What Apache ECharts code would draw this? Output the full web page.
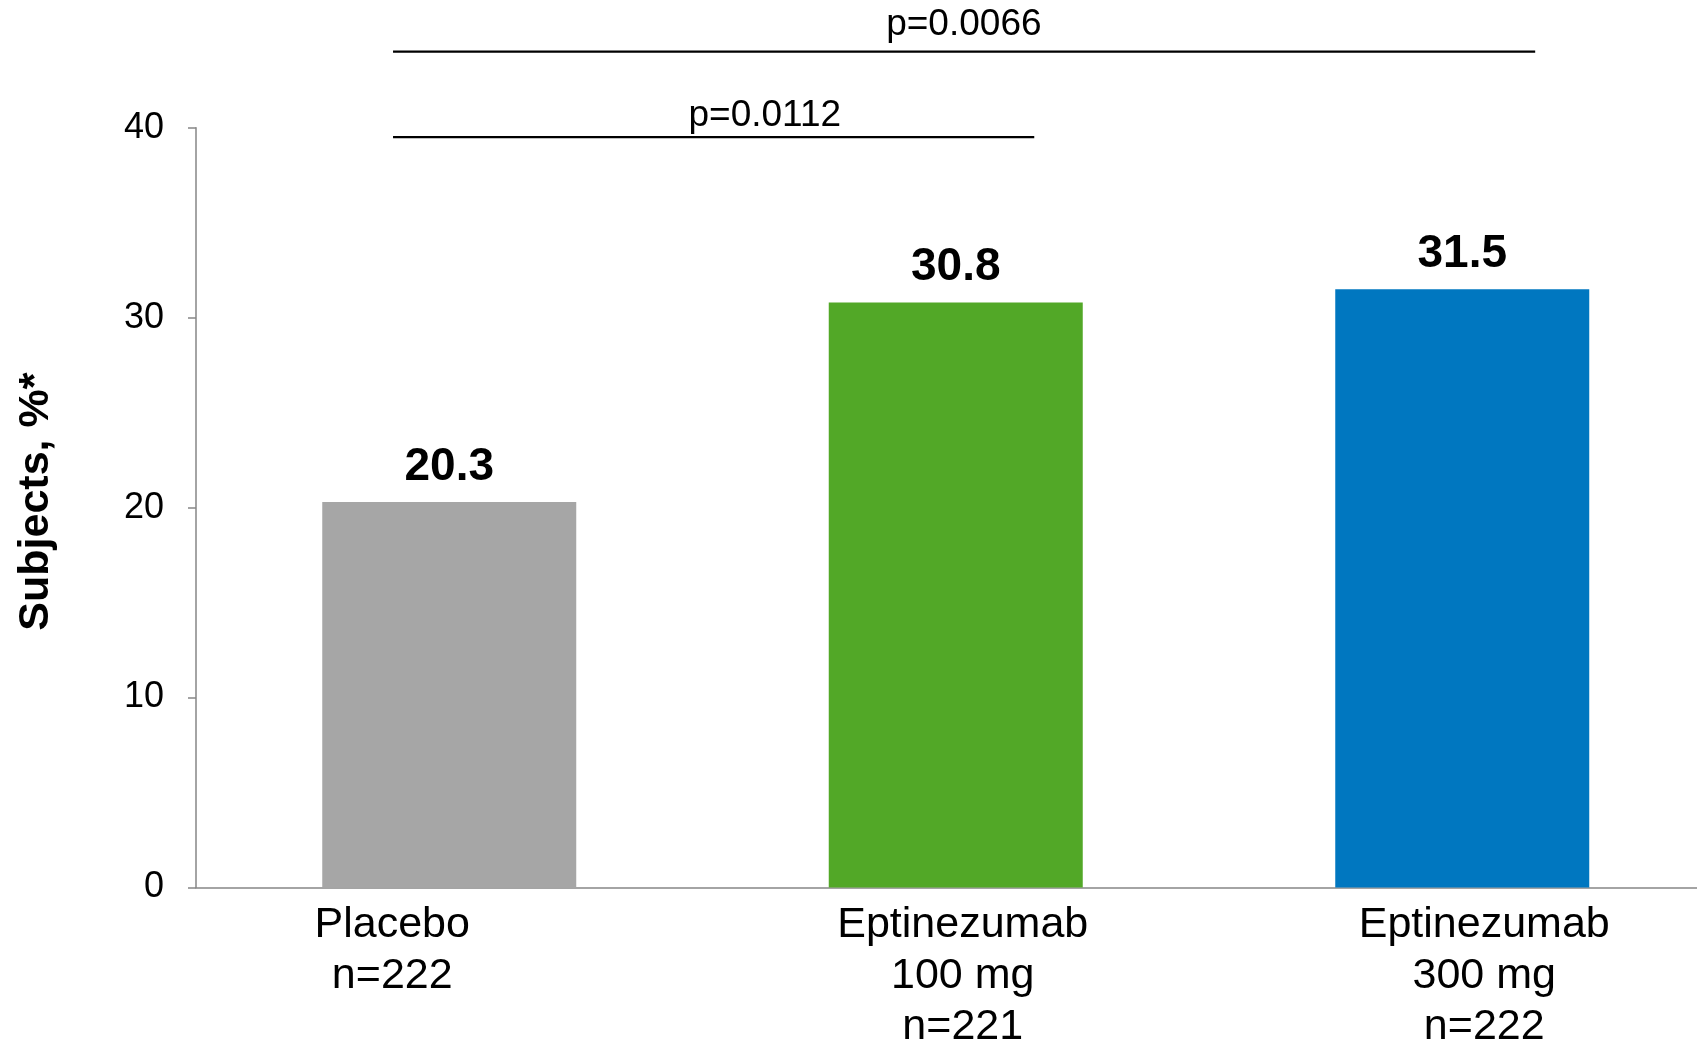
<!DOCTYPE html>
<html>
<head>
<meta charset="utf-8">
<title>Subjects by treatment group</title>
<script src="https://cdn.jsdelivr.net/npm/echarts@6/dist/echarts.min.js"></script>
<style>
  html, body { margin: 0; padding: 0; background: #fff; }
  #chart { width: 1697px; height: 1043px; }
</style>
</head>
<body>
<div id="chart"></div>
<script>
// Treatment groups and percentage of subjects
var categories = ['Placebo\nn=222', 'Eptinezumab\n100 mg\nn=221', 'Eptinezumab\n300 mg\nn=222'];
var values = [20.3, 30.8, 31.5];
var barColors = ['#A6A6A6', '#52A827', '#0077C0'];
var yTicks = [0, 10, 20, 30, 40];

// Significance comparisons: bracket span (category index units) and level (y units)
var pTexts = ['p=0.0066', 'p=0.0112'];
var bracketFrom = [-0.111, -0.111];
var bracketTo = [2.144, 1.155];
var bracketLevel = [44.0, 39.5];
var pTextX = [1.016, 0.623];
var pTextGap = [8, 3];

// Horizontal nudge of each category label (px; negative = left)
var labelShift = [-57, 7, 22];

var FONT = '"Liberation Sans", Arial, Helvetica, sans-serif';

var chart = echarts.init(document.getElementById('chart'), null, { renderer: 'canvas' });

var barData = values.map(function (v, i) {
  return { value: v, itemStyle: { color: barColors[i] } };
});

// Rich styles that pad one side of a centred label to shift it sideways
var labelRich = {};
labelShift.forEach(function (s, i) {
  labelRich['c' + i] = {
    color: '#000',
    fontFamily: FONT,
    fontSize: 43,
    lineHeight: 51,
    padding: s >= 0 ? [0, 0, 0, 2 * s] : [0, -2 * s, 0, 0]
  };
});

var bracketSeries = pTexts.map(function (t, i) {
  return {
    type: 'line',
    xAxisIndex: 1,
    yAxisIndex: 0,
    data: [[bracketFrom[i], bracketLevel[i]], [bracketTo[i], bracketLevel[i]]],
    symbol: 'none',
    clip: false,
    silent: true,
    lineStyle: { color: '#000', width: 2.2 },
    z: 5
  };
});

var pLabelSeries = {
  type: 'scatter',
  xAxisIndex: 1,
  yAxisIndex: 0,
  clip: false,
  silent: true,
  symbolSize: 0,
  itemStyle: { opacity: 1 },
  data: pTexts.map(function (t, i) {
    return {
      value: [pTextX[i], bracketLevel[i]],
      name: t,
      label: { distance: pTextGap[i] }
    };
  }),
  label: {
    show: true,
    position: 'top',
    formatter: function (p) { return p.name; },
    color: '#000',
    opacity: 1,
    fontFamily: FONT,
    fontSize: 37
  }
};

chart.setOption({
  animation: false,
  backgroundColor: '#fff',
  grid: {
    left: 196,
    top: 127.7,
    bottom: 155.5,
    width: 1519.5,
    containLabel: false,
    outerBoundsMode: 'none'
  },
  xAxis: [{
    type: 'category',
    data: categories,
    axisLine: { show: true, lineStyle: { color: '#868686', width: 1.5 } },
    axisTick: { show: false },
    axisLabel: {
      color: '#000',
      fontFamily: FONT,
      fontSize: 43,
      lineHeight: 51,
      margin: 12,
      interval: 0,
      formatter: function (value, index) {
        return value.split('\n').map(function (line) {
          return '{c' + index + '|' + line + '}';
        }).join('\n');
      },
      rich: labelRich
    },
    splitLine: { show: false }
  }, {
    type: 'value',
    min: -0.5,
    max: 2.5,
    show: false
  }],
  yAxis: {
    type: 'value',
    min: yTicks[0],
    max: yTicks[yTicks.length - 1],
    interval: yTicks[1] - yTicks[0],
    name: 'Subjects, %*',
    nameLocation: 'middle',
    nameRotate: 90,
    nameGap: 138,
    nameTextStyle: {
      color: '#000',
      fontFamily: FONT,
      fontWeight: 'bold',
      fontSize: 43,
      padding: [0, 0, 0, 12]
    },
    axisLine: { show: true, onZero: false, lineStyle: { color: '#868686', width: 1.5 } },
    axisTick: { show: true, inside: false, length: 8, lineStyle: { color: '#868686', width: 1.5 } },
    axisLabel: {
      color: '#000',
      fontFamily: FONT,
      fontSize: 36,
      margin: 32
    },
    splitLine: { show: false }
  },
  series: [{
    type: 'bar',
    data: barData,
    barWidth: 254,
    label: {
      show: true,
      position: 'top',
      distance: 12,
      color: '#000',
      fontFamily: FONT,
      fontWeight: 'bold',
      fontSize: 46,
      formatter: function (p) { return p.value.toFixed(1); }
    },
    z: 2
  }].concat(bracketSeries, [pLabelSeries])
});
</script>
</body>
</html>
